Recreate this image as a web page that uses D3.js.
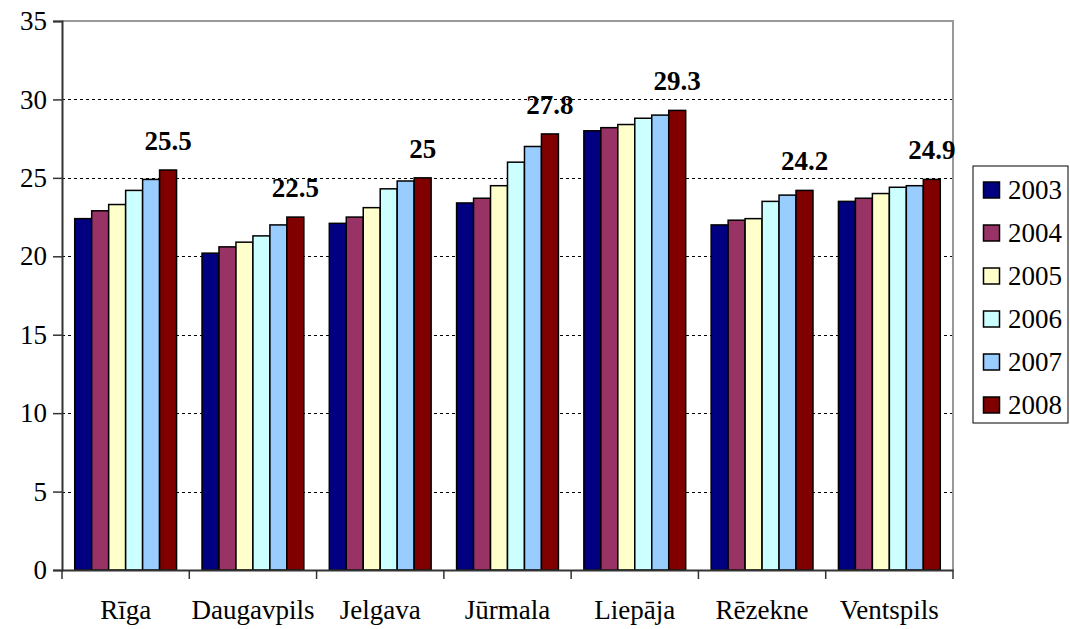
<!DOCTYPE html>
<html>
<head>
<meta charset="utf-8">
<script src="https://cdn.jsdelivr.net/npm/d3@7"></script>
</head>
<body style="margin:0;background:#fff">
<svg id="chart" width="1070" height="629" style="display:block"></svg>
<script>
const cities = ["Rīga", "Daugavpils", "Jelgava", "Jūrmala", "Liepāja", "Rēzekne", "Ventspils"];
const years = ["2003", "2004", "2005", "2006", "2007", "2008"];
const v2003 = [22.4, 20.2, 22.1, 23.4, 28.0, 22.0, 23.5];
const v2004 = [22.9, 20.6, 22.5, 23.7, 28.2, 22.3, 23.7];
const v2005 = [23.3, 20.9, 23.1, 24.5, 28.4, 22.4, 24.0];
const v2006 = [24.2, 21.3, 24.3, 26.0, 28.8, 23.5, 24.4];
const v2007 = [24.9, 22.0, 24.8, 27.0, 29.0, 23.9, 24.5];
const v2008 = [25.5, 22.5, 25, 27.8, 29.3, 24.2, 24.9];
const yTicks = [0, 5, 10, 15, 20, 25, 30, 35];
const colors = ["#000080", "#993366", "#FFFFCC", "#CCFFFF", "#99CCFF", "#800000"];

const series = [v2003, v2004, v2005, v2006, v2007, v2008];
const FONT = "Liberation Serif";

const margin = {left: 62, top: 21, right: 953, bottom: 570};
const svg = d3.select("#chart");

const x0 = d3.scaleBand().domain(cities).range([margin.left, margin.right])
  .paddingInner(0.2).paddingOuter(0.1);
const x1 = d3.scaleBand().domain(years).range([0, x0.bandwidth()]);
const y = d3.scaleLinear().domain([0, 35]).range([margin.bottom, margin.top]);

// gridlines
svg.append("g").selectAll("line").data(yTicks.filter(t => t > 0 && t < 35)).join("line")
  .attr("x1", margin.left).attr("x2", margin.right)
  .attr("y1", d => Math.round(y(d)) + 0.5).attr("y2", d => Math.round(y(d)) + 0.5)
  .attr("stroke", "#000").attr("stroke-width", 1).attr("stroke-dasharray", "3,3");

// plot border top & right (gray)
svg.append("path")
  .attr("d", `M${margin.left},${y(35)}H${margin.right}V${margin.bottom}`)
  .attr("fill", "none").attr("stroke", "#999").attr("stroke-width", 2);

// bars
const groups = svg.append("g").selectAll("g").data(cities).join("g")
  .attr("transform", d => `translate(${x0(d)},0)`);
groups.selectAll("rect")
  .data((c, i) => years.map((yr, j) => ({yr, v: series[j][i], j})))
  .join("rect")
  .attr("x", d => x1(d.yr))
  .attr("width", x1.bandwidth())
  .attr("y", d => y(d.v))
  .attr("height", d => y(0) - y(d.v))
  .attr("fill", d => colors[d.j])
  .attr("stroke", "#000").attr("stroke-width", 1.5);

// y axis
const yAxis = d3.axisLeft(y).tickValues(yTicks).tickSize(9).tickPadding(6).tickFormat(d3.format("d"));
const gy = svg.append("g").attr("transform", `translate(${margin.left},0)`).call(yAxis);
gy.attr("font-family", null).attr("font-size", null);
gy.select(".domain").attr("stroke", "#333").attr("stroke-width", 2);
gy.selectAll(".tick line").attr("stroke", "#333").attr("stroke-width", 1.5);
gy.selectAll("text").attr("fill", "#000").attr("font-family", FONT).attr("font-size", 27);

// x axis
const xAxis = d3.axisBottom(x0).tickSize(0).tickPadding(30);
const gx = svg.append("g").attr("transform", `translate(0,${margin.bottom})`).call(xAxis);
gx.attr("font-family", null).attr("font-size", null);
gx.select(".domain").attr("stroke", "#333").attr("stroke-width", 2);
gx.selectAll("text").attr("fill", "#000").attr("font-family", FONT).attr("font-size", 27);
// category boundary ticks
const half = x0.step() * x0.paddingInner() / 2;
const bounds = cities.map((c, i) => i === 0 ? margin.left : x0(c) - half);
bounds.push(margin.right);
gx.append("g").selectAll("line").data(bounds).join("line")
  .attr("x1", d => d).attr("x2", d => d).attr("y1", 0).attr("y2", 9)
  .attr("stroke", "#333").attr("stroke-width", 1.5);

// value labels above 2008 bars
svg.selectAll("text.vlabel").data(cities).join("text").attr("class", "vlabel")
  .attr("x", (c) => x0(c) + x1("2008") + x1.bandwidth() / 2)
  .attr("y", (c, i) => y(v2008[i]) - 20)
  .attr("text-anchor", "middle")
  .attr("font-family", FONT).attr("font-size", 27).attr("font-weight", "bold")
  .attr("fill", "#000")
  .text((c, i) => String(v2008[i]));

// legend
svg.append("rect").attr("x", 973).attr("y", 166).attr("width", 95).attr("height", 257)
  .attr("fill", "#fff").attr("stroke", "#000").attr("stroke-width", 1);
svg.selectAll("rect.sw").data(years).join("rect").attr("class", "sw")
  .attr("x", 983.5).attr("y", (d, i) => 182 + i * 43).attr("width", 16).attr("height", 16)
  .attr("fill", (d, i) => colors[i]).attr("stroke", "#000").attr("stroke-width", 1.5);
svg.selectAll("text.lg").data(years).join("text").attr("class", "lg")
  .attr("x", 1008).attr("y", (d, i) => 190 + i * 43).attr("dy", "0.35em")
  .attr("font-family", FONT).attr("font-size", 27).attr("fill", "#000").text(d => d);
</script>
</body>
</html>
